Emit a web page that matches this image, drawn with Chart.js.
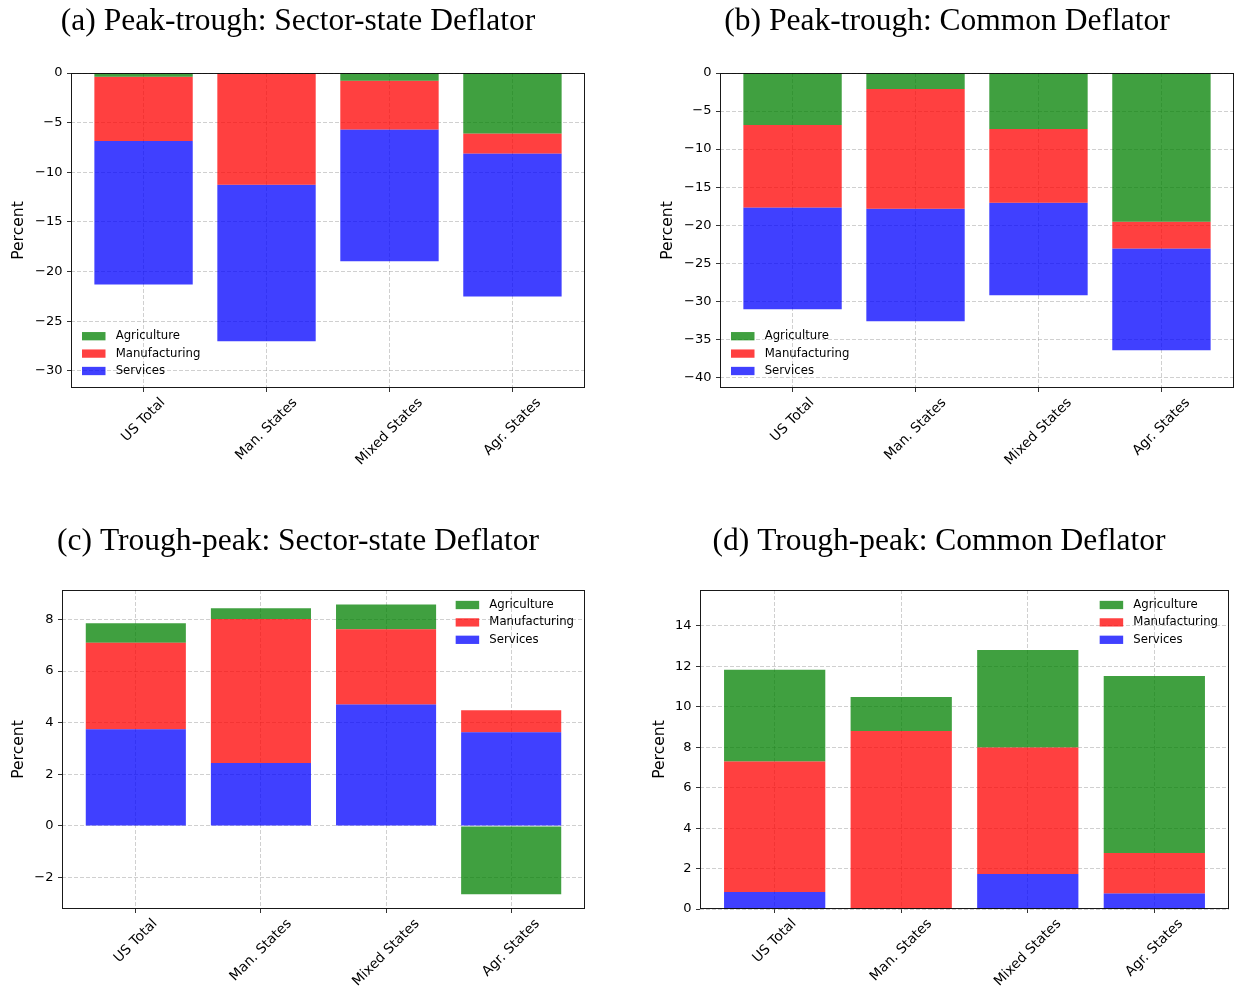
<!DOCTYPE html>
<html>
<head>
<meta charset="utf-8">
<script src="https://cdn.jsdelivr.net/npm/chart.js@4"></script>
<style>
  html, body { margin: 0; padding: 0; background: #fff; }
  body { width: 1236px; height: 992px; position: relative; overflow: hidden; }
  .panel { position: absolute; }
</style>
</head>
<body>
<div class="panel" style="left:0px;top:0px"><canvas id="chartA" width="596" height="475"></canvas></div>
<div class="panel" style="left:650px;top:0px"><canvas id="chartB" width="590" height="475"></canvas></div>
<div class="panel" style="left:0px;top:517px"><canvas id="chartC" width="596" height="475"></canvas></div>
<div class="panel" style="left:640px;top:517px"><canvas id="chartD" width="596" height="475"></canvas></div>
<script>
// Region groups on the x axis
const categories = ['US Total', 'Man. States', 'Mixed States', 'Agr. States'];
const sectorNames = ['Agriculture', 'Manufacturing', 'Services'];

// (a) Peak-trough, sector-state deflator (percent)
const agrA = [-0.37, -0.07, -0.77, -6.08];
const manA = [-6.48, -11.18, -4.91, -2.02];
const serA = [-14.45, -15.75, -13.27, -14.40];

// (b) Peak-trough, common deflator (percent)
const agrB = [-6.84, -2.10, -7.37, -19.56];
const manB = [-10.84, -15.75, -9.69, -3.51];
const serB = [-13.37, -14.78, -12.14, -13.38];

// (c) Trough-peak, sector-state deflator (percent)
const agrC = [0.75, 0.41, 0.96, -2.65];
const manC = [3.36, 5.58, 2.92, 0.85];
const serC = [3.74, 2.44, 4.70, 3.63];

// (d) Trough-peak, common deflator (percent)
const agrD = [4.53, 1.68, 4.82, 8.76];
const manD = [6.46, 8.81, 6.26, 2.00];
const serD = [0.84, 0.00, 1.73, 0.77];

// y tick values per panel
const yTicksA = [0, -5, -10, -15, -20, -25, -30];
const yTicksB = [0, -5, -10, -15, -20, -25, -30, -35, -40];
const yTicksC = [-2, 0, 2, 4, 6, 8];
const yTicksD = [0, 2, 4, 6, 8, 10, 12, 14];

const titleA = '(a) Peak-trough: Sector-state Deflator';
const titleB = '(b) Peak-trough: Common Deflator';
const titleC = '(c) Trough-peak: Sector-state Deflator';
const titleD = '(d) Trough-peak: Common Deflator';

const sectorColors = {
  Agriculture: 'rgba(0,128,0,0.75)',
  Manufacturing: 'rgba(255,0,0,0.75)',
  Services: 'rgba(0,0,255,0.75)'
};
const gridColor = 'rgba(150,150,150,0.45)';
const SANS = '"DejaVu Sans", sans-serif';
const CAT_FONT = 13.7;

function fmtTick(v) {
  return v < 0 ? '\u2212' + Math.abs(v) : String(v);
}

// Frame, rotated category labels and the in-axes legend
const decorPlugin = {
  id: 'decor',
  afterDraw(chart, args, opts) {
    const ctx = chart.ctx;
    const ca = chart.chartArea;
    const xs = chart.scales.x;
    ctx.save();

    // rotated category labels, centred under each tick
    ctx.font = CAT_FONT + 'px ' + SANS;
    ctx.fillStyle = '#000';
    ctx.textAlign = 'center';
    ctx.textBaseline = 'middle';
    categories.forEach((lab, i) => {
      const px = xs.getPixelForValue(i);
      const w = ctx.measureText(lab).width;
      const h = CAT_FONT * 1.164;
      const H = (w + h) * Math.SQRT1_2;
      const cy = ca.bottom + 7 + H / 2;
      ctx.save();
      ctx.translate(px, cy);
      ctx.rotate(-Math.PI / 4);
      ctx.fillText(lab, 0, 0);
      ctx.restore();
    });

    // legend (no frame)
    ctx.font = '11.7px ' + SANS;
    const rowH = 17.4, boxW = 23.5, boxH = 8.3, gap = 33.7;
    const maxW = Math.max(...sectorNames.map(n => ctx.measureText(n).width));
    let x0, y0;
    if (opts.legendAt === 'lower left') {
      x0 = ca.left + 11;
      y0 = ca.bottom - 17 - 2 * rowH;
    } else {
      x0 = ca.right - 11 - gap - maxW;
      y0 = ca.top + 15;
    }
    ctx.textAlign = 'left';
    ctx.textBaseline = 'middle';
    sectorNames.forEach((name, k) => {
      const ds = chart.data.datasets.find(d => d.label === name);
      const cy = y0 + k * rowH;
      ctx.fillStyle = ds.backgroundColor;
      ctx.fillRect(x0, cy - boxH / 2, boxW, boxH);
      ctx.fillStyle = '#000';
      ctx.fillText(name, x0 + gap, cy);
    });

    // axes frame
    ctx.strokeStyle = 'rgba(0,0,0,0.9)';
    ctx.lineWidth = 1;
    ctx.strokeRect(Math.round(ca.left) + 0.5, Math.round(ca.top) + 0.5,
                   Math.round(ca.right - ca.left) - 1, Math.round(ca.bottom - ca.top) - 1);
    ctx.restore();
  }
};

function makeChart(id, cfg) {
  const datasets = cfg.stackOrder.map(name => ({
    label: name,
    data: cfg.values[name].map((v, i) => ({ x: i, y: v })),
    backgroundColor: sectorColors[name],
    borderWidth: 0,
    categoryPercentage: 1.0,
    barPercentage: 0.8
  }));
  const gridOpts = {
    color: gridColor, lineWidth: 1, offset: false,
    drawTicks: true, tickLength: 4, tickColor: '#333', tickWidth: 1, tickBorderDash: []
  };
  return new Chart(document.getElementById(id), {
    type: 'bar',
    data: { datasets },
    options: {
      responsive: false,
      animation: false,
      devicePixelRatio: 1,
      layout: { padding: { left: cfg.padLeft, right: cfg.padRight, top: 0, bottom: 0 } },
      plugins: {
        legend: { display: false },
        tooltip: { enabled: false },
        title: {
          display: true,
          text: cfg.title,
          color: '#000',
          font: { family: '"Liberation Serif", serif', size: 31.5, weight: 'normal', lineHeight: 1.2 },
          padding: { top: cfg.titleTop, bottom: 73 - 37.8 - cfg.titleTop }
        },
        decor: { legendAt: cfg.legendAt }
      },
      scales: {
        x: {
          type: 'linear',
          stacked: true,
          min: -0.59,
          max: 3.59,
          offset: false,
          grid: gridOpts,
          border: { display: false, dash: [4, 2] },
          ticks: { display: false },
          afterBuildTicks: s => { s.ticks = categories.map((c, i) => ({ value: i })); },
          afterFit: s => { s.height = cfg.xAxisH; }
        },
        y: {
          type: 'linear',
          stacked: true,
          min: cfg.yMin,
          max: cfg.yMax,
          grid: gridOpts,
          border: { display: false, dash: [4, 2] },
          ticks: {
            color: '#000',
            font: { family: SANS, size: 13 },
            padding: 4.5,
            callback: v => fmtTick(v)
          },
          afterBuildTicks: s => { s.ticks = cfg.yTicks.map(v => ({ value: v })); },
          afterFit: s => { s.width = cfg.yAxisW; },
          title: {
            display: true,
            text: 'Percent',
            color: '#000',
            font: { family: SANS, size: 15.6, lineHeight: 1 },
            padding: { top: cfg.yTitlePad, bottom: 0 }
          }
        }
      }
    },
    plugins: [decorPlugin]
  });
}

makeChart('chartA', {
  title: titleA,
  stackOrder: ['Agriculture', 'Manufacturing', 'Services'],
  values: { Agriculture: agrA, Manufacturing: manA, Services: serA },
  yMin: -31.72, yMax: 0, yTicks: yTicksA,
  padLeft: 11, padRight: 11, yAxisW: 60, xAxisH: 87, yTitlePad: 0, titleTop: 2.9,
  legendAt: 'lower left'
});

makeChart('chartB', {
  title: titleB,
  stackOrder: ['Agriculture', 'Manufacturing', 'Services'],
  values: { Agriculture: agrB, Manufacturing: manB, Services: serB },
  yMin: -41.4, yMax: 0, yTicks: yTicksB,
  padLeft: 10, padRight: 6, yAxisW: 60, xAxisH: 87, yTitlePad: 0, titleTop: 2.9,
  legendAt: 'lower left'
});

makeChart('chartC', {
  title: titleC,
  stackOrder: ['Services', 'Manufacturing', 'Agriculture'],
  values: { Agriculture: agrC, Manufacturing: manC, Services: serC },
  yMin: -3.22, yMax: 9.14, yTicks: yTicksC,
  padLeft: 11, padRight: 11, yAxisW: 51, xAxisH: 83, yTitlePad: 0.2, titleTop: 6.3,
  legendAt: 'upper right'
});

makeChart('chartD', {
  title: titleD,
  stackOrder: ['Services', 'Manufacturing', 'Agriculture'],
  values: { Agriculture: agrD, Manufacturing: manD, Services: serD },
  yMin: 0, yMax: 15.78, yTicks: yTicksD,
  padLeft: 9, padRight: 7, yAxisW: 51, xAxisH: 83, yTitlePad: 3.2, titleTop: 6.3,
  legendAt: 'upper right'
});
</script>
</body>
</html>
